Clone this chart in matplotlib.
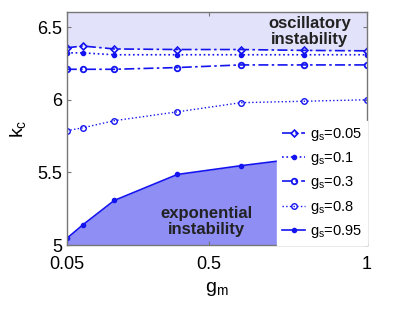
import matplotlib
matplotlib.use("Agg")
import matplotlib.pyplot as plt

plt.rcParams['font.family'] = ['Liberation Sans', 'DejaVu Sans']

gm = [0.05, 0.1, 0.2, 0.4, 0.6, 0.8, 1.0]
k_005 = [6.358, 6.37, 6.35, 6.346, 6.346, 6.34, 6.337]
k_01 = [6.323, 6.323, 6.31, 6.31, 6.31, 6.31, 6.31]
k_03 = [6.21, 6.21, 6.21, 6.222, 6.24, 6.24, 6.24]
k_08 = [5.787, 5.807, 5.856, 5.917, 5.98, 5.99, 6.0]
k_095 = [5.046, 5.138, 5.307, 5.486, 5.546, 5.60, 5.663]
labels = ['g$_\\mathregular{s}$=0.05', 'g$_\\mathregular{s}$=0.1', 'g$_\\mathregular{s}$=0.3',
          'g$_\\mathregular{s}$=0.8', 'g$_\\mathregular{s}$=0.95']

blue = '#1414f0'
fig = plt.figure(figsize=(4.15, 3.13), dpi=100)
ax = fig.add_axes([0.161, 0.217, 0.723, 0.745])
ax.set_xlim(0.05, 1.0)
ax.set_ylim(5, 6.605)

ax.fill_between(gm, k_005, 6.605, color='#e2e2fa', zorder=0, lw=0)
ax.fill_between(gm, 5, k_095, color='#8e8ef5', zorder=0, lw=0)

ax.plot(gm, k_005, linestyle=(0, (6, 2, 1.5, 2)), marker='D', ms=3.5, mfc='none', mew=1.2, color=blue, lw=1.2, label=labels[0])
ax.plot(gm, k_01, linestyle=':', marker='o', ms=3, color=blue, lw=1.2, label=labels[1])
ax.plot(gm, k_03, linestyle=(0, (6, 2, 1.5, 2)), marker='o', ms=4, mfc='none', mew=1.3, color=blue, lw=1.2, label=labels[2])
ax.plot(gm, k_08, linestyle=':', marker='o', ms=4, mfc='none', mew=1.0, color=blue, lw=1.0, label=labels[3])
ax.plot(gm, k_095, linestyle='-', marker='o', ms=3, color=blue, lw=1.2, label=labels[4])

leg = ax.legend(loc='lower right', bbox_to_anchor=(1.0, 0.0), fontsize=10.5, frameon=True,
                fancybox=False, framealpha=1, edgecolor='white', handlelength=1.6,
                handletextpad=0.3, labelspacing=0.5, borderaxespad=0.0, borderpad=0.35)

ax.text(0.81, 0.915, 'oscillatory\ninstability', transform=ax.transAxes, ha='center', va='center',
        fontsize=12, fontweight='bold', color='#222222', linespacing=1.1)
ax.text(0.465, 0.10, 'exponential\ninstability', transform=ax.transAxes, ha='center', va='center',
        fontsize=12, fontweight='bold', color='#222222', linespacing=1.1)

ax.set_xticks([0.05, 0.5, 1.0])
ax.set_xticklabels(['0.05', '0.5', '1'])
ax.set_yticks([5, 5.5, 6, 6.5])
ax.set_yticklabels(['5', '5.5', '6', '6.5'])
ax.tick_params(direction='in', labelsize=13, length=3, color='#777777', right=True, top=True)
ax.tick_params(axis='x', pad=8)
for s in ax.spines.values():
    s.set_color('#777777')
    s.set_linewidth(1.0)
ax.set_xlabel('g$_\\mathregular{m}$', fontsize=14, labelpad=5)
ax.set_ylabel('k$_\\mathregular{c}$', fontsize=14, labelpad=6)

fig.savefig('out.png', dpi=100)
